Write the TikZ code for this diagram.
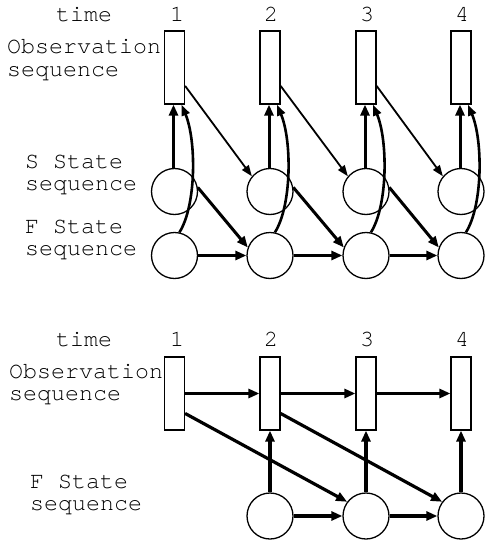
\documentclass[tikz,border=0pt]{standalone}
\usepackage{fontspec}
\setmainfont{texgyrecursor-regular.otf}[BoldFont=texgyrecursor-bold.otf]
\usetikzlibrary{arrows.meta,calc}
\begin{document}
\begin{tikzpicture}[x=1pt,y=-1pt,
  lbl/.style={font=\fontsize{23.3}{22}\selectfont, inner sep=0pt, align=left, anchor=base west},
  num/.style={font=\fontsize{23.3}{22}\selectfont, inner sep=0pt, anchor=base},
  obs/.style={draw, line width=1.2pt, minimum width=20pt, minimum height=73pt, inner sep=0pt},
  st/.style={draw, circle, line width=1.3pt, minimum size=46pt, inner sep=0pt},
  thk/.style={line width=3pt, -{Triangle[length=11pt,width=9pt]}},
  thn/.style={line width=1.8pt, -{Triangle[length=11pt,width=8pt]}},
  curv/.style={line width=2.6pt, -{Triangle[length=11pt,width=8pt]}},
  bot/.style={line width=3.2pt, -{Triangle[length=11pt,width=9pt]}}
]
\useasboundingbox (0,0) rectangle (485,543);

% ---------- top diagram ----------
\node[lbl] (time1) at (56,22) {time};
\node[num] (n1) at (177,22) {1};
\node[num] (n2) at (271,22) {2};
\node[num] (n3) at (367,22) {3};
\node[num] (n4) at (462,22) {4};
\node[lbl] (obslbl1) at (7,76) {Observation\\sequence};
\node[lbl] (slbl) at (25,190) {S State\\sequence};
\node[lbl] (flbl1) at (25,255) {F State\\sequence};

\foreach \i/\x in {1/174.5,2/270,3/366,4/461}{
  \node[obs] (o\i) at (\x,67.5) {};
  \node[st] (s\i) at (\x,191.5) {};
  \node[st] (f\i) at (\x,255.5) {};
}
\foreach \i in {1,2,3,4}{
  \draw[thk] ([xshift=-1pt]s\i.north) -- ([xshift=-1pt]o\i.south);
  \draw[curv] (f\i.78) .. controls +(17,-27) and +(15,36) .. ($(o\i.south)+(7,0)$);
}
\foreach \i/\j in {1/2,2/3,3/4}{
  \draw[thn] (o\i.-60) -- (s\j.140);
  \draw[thk] (s\i.10) -- (f\j.160);
  \draw[thk] (f\i) -- (f\j);
}

% ---------- bottom diagram ----------
\node[lbl] (time2) at (56,346) {time};
\node[num] (m1) at (177,346) {1};
\node[num] (m2) at (271,346) {2};
\node[num] (m3) at (367,346) {3};
\node[num] (m4) at (462,346) {4};
\node[lbl] (obslbl2) at (9,400) {Observation\\sequence};
\node[lbl] (flbl2) at (30,510) {F State\\sequence};

\foreach \i/\x in {1/174.5,2/270,3/366,4/461}{
  \node[obs] (p\i) at (\x,393.5) {};
}
\foreach \i/\x in {2/270,3/366,4/461}{
  \node[st] (g\i) at (\x,516) {};
  \draw[bot] (g\i) -- (p\i);
}
\foreach \i/\j in {1/2,2/3,3/4}{
  \draw[bot] (p\i) -- (p\j);
}
\foreach \i/\j in {2/3,3/4}{
  \draw[bot] (g\i) -- (g\j);
}
\foreach \i/\k in {1/3,2/4}{
  \draw[bot] (p\i.-62) -- (g\k.143);
}
\end{tikzpicture}
\end{document}
